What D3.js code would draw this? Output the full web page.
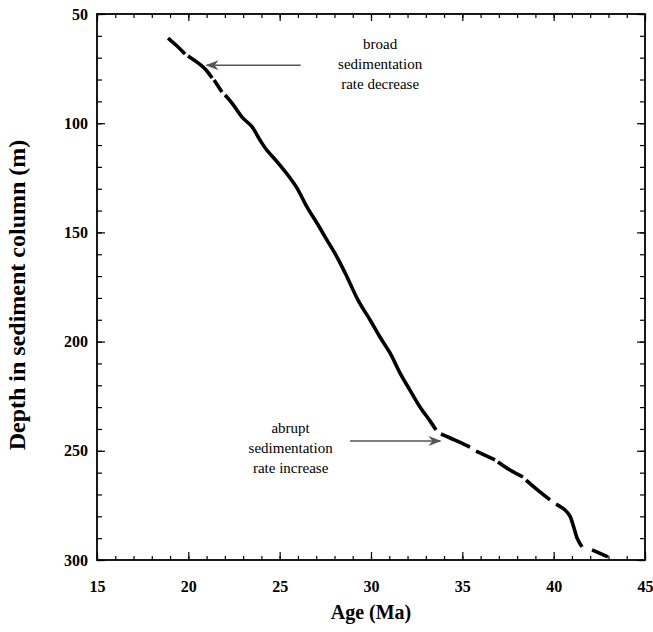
<!DOCTYPE html>
<html>
<head>
    <script src="https://d3js.org/d3.v7.min.js"></script>
    <style>
        body { margin: 0; background: white; }
        text { font-family: "Liberation Serif", "Times New Roman", serif; }
    </style>
</head>
<body>
<div id="chart"></div>
<script>
    // age (Ma) and depth (m); null = gap in the plotted trace
    var ages   = [18.89, 19.32, 19.82, null,
                  19.98, 20.53, 20.97, 21.30, null,
                  21.41, 21.84, null,
                  22.01, 22.39, 22.94, 23.49, 23.92, 24.25, 24.91, 25.57, 25.95, 26.50, 27.04,
                  27.59, 28.14, 28.69, 29.29, 29.95, 30.49, 31.04, 31.59, 32.13, 32.68, 33.23, 33.56, null,
                  33.83, 34.60, 35.42, null,
                  35.75, 36.79, null,
                  36.95, 37.61, 38.32, null,
                  38.49, 38.98, 39.80, null,
                  40.13, 40.62, 40.89, 41.11, 41.28, 41.55, null,
                  42.10, 42.97];
    var depths = [61.0, 64.2, 68.3, null,
                  69.2, 72.4, 75.6, 79.3, null,
                  80.2, 85.7, null,
                  87.1, 90.8, 97.2, 101.7, 107.7, 111.8, 118.2, 125.1, 129.7, 138.4, 145.7,
                  153.5, 161.3, 170.4, 181.0, 190.1, 197.9, 205.2, 214.4, 222.2, 229.9, 236.3, 240.5, null,
                  242.3, 245.1, 248.3, null,
                  250.1, 254.2, null,
                  255.1, 258.8, 262.0, null,
                  263.4, 267.0, 272.5, null,
                  274.4, 277.1, 279.9, 285.3, 289.9, 294.0, null,
                  295.4, 298.6];

    var xTicks = [15, 20, 25, 30, 35, 40, 45];
    var yTicks = [50, 100, 150, 200, 250, 300];

    // annotations: text lines, and arrow from/to in data units
    var noteTop = ["broad", "sedimentation", "rate decrease"];
    var noteTopAt = {age: 30.5, depth: 66};
    var arrowTop = {fromAge: 26.15, toAge: 21.0, depth: 73.5};

    var noteBot = ["abrupt", "sedimentation", "rate increase"];
    var noteBotAt = {age: 25.6, depth: 242};
    var arrowBot = {fromAge: 28.85, toAge: 33.8, depth: 245.5};

    var margin = {top: 14, right: 8, bottom: 72, left: 97},
        width = 645 - margin.left,
        height = 560 - margin.top;

    var svg = d3.select("#chart")
        .append("svg")
        .attr("width", 653)
        .attr("height", 632)
        .append("g")
        .attr("transform", "translate(" + margin.left + "," + margin.top + ")");

    var x = d3.scaleLinear().domain([15, 45]).range([0, width]);
    var y = d3.scaleLinear().domain([50, 300]).range([0, height]);

    var xMinor = d3.range(15, 46, 1);
    var yMinor = d3.range(50, 301, 10);

    // minor ticks on all four sides, pointing inward
    function minor(axis, vals, size) {
        return axis.tickValues(vals).tickSize(size).tickSizeOuter(0).tickFormat("");
    }
    svg.append("g").attr("transform", "translate(0," + height + ")")
       .call(minor(d3.axisBottom(x), xMinor, -4));
    svg.append("g").call(minor(d3.axisTop(x), xMinor, -4));
    svg.append("g").call(minor(d3.axisLeft(y), yMinor, -5));
    svg.append("g").attr("transform", "translate(" + width + ",0)")
       .call(minor(d3.axisRight(y), yMinor, -5));

    // major ticks
    svg.append("g")
       .attr("transform", "translate(0," + height + ")")
       .call(d3.axisBottom(x).tickValues(xTicks).tickSize(-8).tickSizeOuter(0).tickPadding(21));
    svg.append("g")
       .call(d3.axisLeft(y).tickValues(yTicks).tickSize(-8).tickSizeOuter(0).tickPadding(9));
    svg.append("g").call(minor(d3.axisTop(x), xTicks, -7));
    svg.append("g").attr("transform", "translate(" + width + ",0)")
       .call(minor(d3.axisRight(y), yTicks, -8));

    svg.selectAll(".tick line").attr("stroke", "#000").attr("stroke-width", 1.2);
    svg.selectAll(".domain").remove();
    svg.selectAll(".tick text")
       .style("font-family", "'Liberation Serif', serif")
       .style("font-size", "16px")
       .style("font-weight", "bold")
       .attr("fill", "#000");

    svg.append("rect")
       .attr("width", width).attr("height", height)
       .attr("fill", "none").attr("stroke", "#000").attr("stroke-width", 1.8);

    // the age-depth trace
    var pts = ages.map(function(a, i) { return {age: a, depth: depths[i]}; });
    var line = d3.line()
        .defined(function(d) { return d.age !== null; })
        .curve(d3.curveCatmullRom)
        .x(function(d) { return x(d.age); })
        .y(function(d) { return y(d.depth); });
    svg.append("path")
       .datum(pts)
       .attr("d", line)
       .attr("fill", "none")
       .attr("stroke", "#000")
       .attr("stroke-width", 3.6)
       .attr("stroke-linejoin", "round");

    // arrowhead marker
    svg.append("defs").append("marker")
       .attr("id", "head")
       .attr("viewBox", "-12 -6 14 12")
       .attr("markerWidth", 14).attr("markerHeight", 12)
       .attr("markerUnits", "userSpaceOnUse")
       .attr("orient", "auto")
       .append("path")
       .attr("d", "M1,0 L-12,-5 L-8,0 L-12,5 Z")
       .attr("fill", "#555");

    function arrow(a) {
        svg.append("line")
           .attr("x1", x(a.fromAge)).attr("x2", x(a.toAge))
           .attr("y1", y(a.depth)).attr("y2", y(a.depth))
           .attr("stroke", "#555").attr("stroke-width", 1.5)
           .attr("marker-end", "url(#head)");
    }
    arrow(arrowTop);
    arrow(arrowBot);

    function note(lines, at) {
        svg.append("g").selectAll("text")
           .data(lines).enter().append("text")
           .attr("x", x(at.age))
           .attr("y", function(d, i) { return y(at.depth) + i * 20; })
           .attr("text-anchor", "middle")
           .style("font-size", "15px")
           .text(function(d) { return d; });
    }
    note(noteTop, noteTopAt);
    note(noteBot, noteBotAt);

    // axis titles
    svg.append("text")
       .attr("x", width / 2).attr("y", height + 59)
       .attr("text-anchor", "middle")
       .style("font-size", "20px").style("font-weight", "bold")
       .text("Age (Ma)");
    svg.append("text")
       .attr("transform", "translate(" + (-72) + "," + (height / 2 + 8) + ")rotate(-90)")
       .attr("text-anchor", "middle")
       .style("font-size", "24px").style("font-weight", "bold")
       .text("Depth in sediment column (m)");
</script>
</body>
</html>
